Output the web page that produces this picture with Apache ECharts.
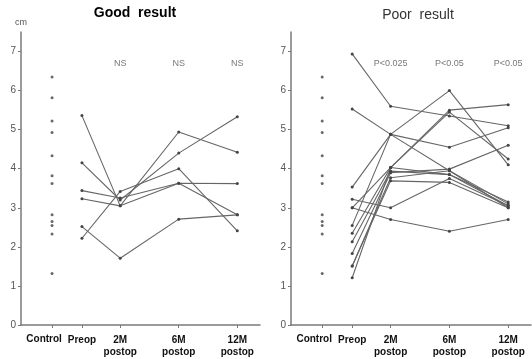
<!DOCTYPE html>
<html>
<head>
<meta charset="utf-8">
<script src="https://cdn.jsdelivr.net/npm/echarts@6/dist/echarts.min.js"></script>
<style>
html, body { margin: 0; padding: 0; background: #fff; }
#chart { width: 532px; height: 359px; }
</style>
</head>
<body>
<div id="chart"></div>
<script>
// data
const stages = ['Control', 'Preop', '2M\npostop', '6M\npostop', '12M\npostop']
const yTicks = [0, 1, 2, 3, 4, 5, 6, 7]
const controlValues = [6.35, 5.82, 5.22, 4.93, 4.33, 3.82, 3.62, 2.82, 2.65, 2.55, 2.33, 1.32]
// each patient: Preop, 2M, 6M, 12M
const goodResult = [
  [5.36, 3.05, 4.94, 4.42],
  [4.15, 3.2, 4.4, 5.33],
  [3.44, 3.25, 3.63, 3.62],
  [3.23, 3.05, 3.63, 2.82],
  [2.52, 1.71, 2.71, 2.82],
  [2.22, 3.42, 4.0, 2.41]
]
const poorResult = [
  [6.94, 5.6, 5.35, 5.1],
  [5.53, 4.88, 4.55, 5.05],
  [3.53, 4.88, 6.0, 4.1],
  [3.22, 3.0, 3.75, 3.05],
  [3.0, 2.7, 2.4, 2.7],
  [3.0, 4.03, 5.5, 5.64],
  [2.55, 4.88, 3.95, 3.0],
  [2.35, 4.03, 5.45, 4.25],
  [2.13, 3.94, 3.85, 3.15],
  [1.83, 3.9, 3.99, 4.6],
  [1.51, 3.77, 3.95, 3.1],
  [1.51, 3.69, 3.65, 3.0],
  [1.21, 4.03, 3.85, 3.05]
]
const goodNotes = ['NS', 'NS', 'NS']
const poorNotes = ['P<0.025', 'P<0.05', 'P<0.05']

// layout
const stageX = [1.3, 2.55, 4.15, 6.6, 9.05]
const noteY = 6.7
const lineColor = '#666'
const axisColor = '#7a7a7a'
const labelFont = '"Liberation Sans Narrow", "Arial Narrow", "Liberation Sans", Arial, sans-serif'

let myChart = echarts.init(document.getElementById('chart'))

function xAxisOf(idx) {
  return {
    gridIndex: idx,
    type: 'value',
    min: 0,
    max: 10,
    axisLine: { lineStyle: { color: axisColor, width: 1.5 } },
    axisTick: { show: true, customValues: stageX, length: 3, lineStyle: { color: axisColor } },
    axisLabel: {
      customValues: stageX.slice(1),
      margin: 9,
      color: '#111',
      fontSize: 10,
      fontWeight: 'bold',
      lineHeight: 12,
      fontFamily: labelFont,
      formatter: v => {
        let i = stageX.indexOf(v)
        return i > 0 ? stages[i] : ''
      }
    },
    splitLine: { show: false }
  }
}

function yAxisOf(idx, name) {
  return {
    gridIndex: idx,
    type: 'value',
    min: 0,
    max: 7.5,
    name: name,
    nameLocation: 'end',
    nameGap: 5,
    nameTextStyle: { color: '#555', fontSize: 9, align: 'center' },
    axisLine: { show: true, lineStyle: { color: axisColor, width: 1.5 } },
    axisTick: { show: true, customValues: yTicks, length: 3, lineStyle: { color: axisColor } },
    axisLabel: { customValues: yTicks, color: '#555', fontSize: 10, margin: 5, fontFamily: 'Liberation Sans, Arial' },
    splitLine: { show: false }
  }
}

let seriesArr = []
// 对照组散点
;[0, 1].forEach(idx => {
  seriesArr.push({
    type: 'scatter',
    xAxisIndex: idx,
    yAxisIndex: idx,
    symbolSize: 3,
    itemStyle: { color: '#444' },
    data: controlValues.map(v => [stageX[0], v]),
    z: 3
  })
})

function addPatients(list, idx) {
  list.forEach(p => {
    seriesArr.push({
      type: 'line',
      xAxisIndex: idx,
      yAxisIndex: idx,
      symbol: 'circle',
      symbolSize: 3,
      showSymbol: true,
      lineStyle: { color: lineColor, width: 1.1 },
      itemStyle: { color: '#444' },
      data: p.map((v, i) => [stageX[i + 1], v])
    })
  })
}
addPatients(goodResult, 0)
addPatients(poorResult, 1)

function addNotes(notes, idx) {
  seriesArr.push({
    type: 'scatter',
    xAxisIndex: idx,
    yAxisIndex: idx,
    symbolSize: 0,
    data: notes.map((t, i) => ({ value: [stageX[i + 2], noteY], name: t })),
    label: {
      show: true,
      position: 'inside',
      formatter: p => p.name,
      color: '#555',
      fontSize: 9,
      fontFamily: labelFont
    }
  })
}
addNotes(goodNotes, 0)
addNotes(poorNotes, 1)

// 标题
const titles = [
  {
    type: 'text',
    x: 135,
    y: 13,
    style: {
      text: 'Good  result',
      fill: '#000',
      font: 'bold 14px "Liberation Sans", Arial, sans-serif',
      textAlign: 'center',
      textVerticalAlign: 'middle'
    }
  },
  {
    type: 'text',
    x: 418,
    y: 15,
    style: {
      text: 'Poor  result',
      fill: '#333',
      font: '14px "Liberation Sans", Arial, sans-serif',
      textAlign: 'center',
      textVerticalAlign: 'middle'
    }
  }
]

myChart.setOption({
  animation: false,
  grid: [
    { left: 21, right: 272, top: 32, bottom: 34 },
    { left: 291, right: 1, top: 32, bottom: 34 }
  ],
  xAxis: [xAxisOf(0), xAxisOf(1)],
  yAxis: [yAxisOf(0, 'cm'), yAxisOf(1, '')],
  series: seriesArr
})

// Control 标签单独放，稍微左移避免和 Preop 重叠
let ctrlLabels = [0, 1].map(idx => {
  let pt = myChart.convertToPixel({ gridIndex: idx }, [stageX[0], 0])
  return {
    type: 'text',
    x: pt[0] - 8,
    y: pt[1] + 9,
    style: {
      text: stages[0],
      fill: '#111',
      font: 'bold 10px ' + labelFont,
      textAlign: 'center',
      textVerticalAlign: 'top'
    }
  }
})
myChart.setOption({ graphic: titles.concat(ctrlLabels) })
</script>
</body>
</html>
